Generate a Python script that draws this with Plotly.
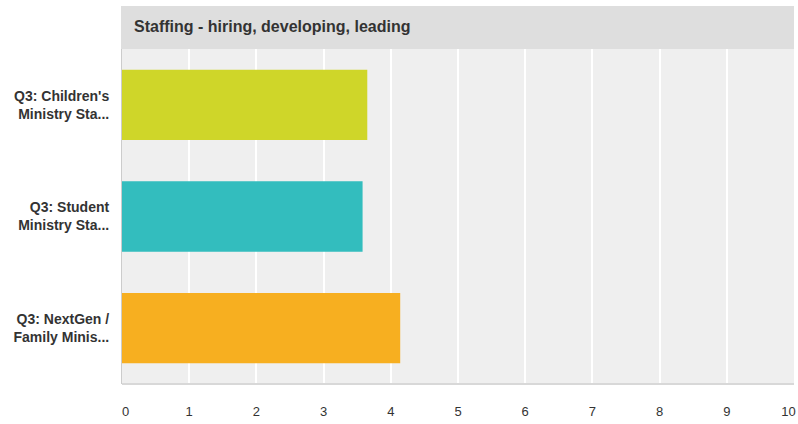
import plotly.graph_objects as go

categories = ["Q3: Children's<br>Ministry Sta...", "Q3: Student<br>Ministry Sta...", "Q3: NextGen /<br>Family Minis..."]
values = [3.65, 3.58, 4.14]
colors = ["#CFD629", "#33BDBE", "#F7AF20"]
tick_vals = [0, 1, 2, 3, 4, 5, 6, 7, 8, 9, 10]
title_text = "Staffing - hiring, developing, leading"

nb = "\u00a0"
tick_text = []
for v in tick_vals:
    if v == tick_vals[0]:
        tick_text.append(nb * 2 + str(v))
    elif v == tick_vals[-1]:
        tick_text.append(str(v) + nb * 3)
    else:
        tick_text.append(str(v))

fig = go.Figure(go.Bar(
    x=values, y=categories, orientation="h",
    marker=dict(color=colors, line=dict(width=0)),
    width=0.63, hoverinfo="x+y",
))

plot_h = 384 - 49
fig.add_shape(type="rect", xref="paper", yref="paper",
              x0=-1 / 673, x1=1, y0=1, y1=1 + 43 / plot_h,
              fillcolor="#dedede", line=dict(width=0), layer="below")
fig.add_annotation(text="<b>" + title_text + "</b>", xref="paper", yref="paper",
                   x=10 / 673, y=1 + 22 / plot_h, xanchor="left", yanchor="middle",
                   showarrow=False, font=dict(size=16, color="#333333", family="Arial, Liberation Sans, sans-serif"))

fig.update_layout(
    width=798, height=424,
    margin=dict(l=122, r=4, t=49, b=40, autoexpand=False),
    paper_bgcolor="#ffffff", plot_bgcolor="#efefef",
    showlegend=False,
    font=dict(family="Arial, Liberation Sans, sans-serif", color="#333333", size=12),
    xaxis=dict(range=[0, 10], tickvals=tick_vals, ticktext=tick_text, showgrid=True,
               gridcolor="#ffffff", gridwidth=2, ticklabeloverflow="allow", automargin=False,
               zeroline=False, showline=False, ticks="", tickfont=dict(size=13, color="#333333"),
               fixedrange=True),
    yaxis=dict(autorange="reversed", showgrid=False, zeroline=False, showline=True,
               linecolor="#cccccc", linewidth=1, ticks="", ticklabelstandoff=9, automargin=False,
               tickfont=dict(size=14, color="#333333", weight="bold"), fixedrange=True),
)
fig.add_shape(type="line", xref="paper", yref="paper", x0=0, x1=1, y0=0, y1=0,
              line=dict(color="#d8d8d8", width=2))
fig.update_xaxes(ticklabelstandoff=18)

fig.write_html("out.html", config={"displayModeBar": False},
               post_script="document.body.style.margin='0';document.body.style.padding='0';")
